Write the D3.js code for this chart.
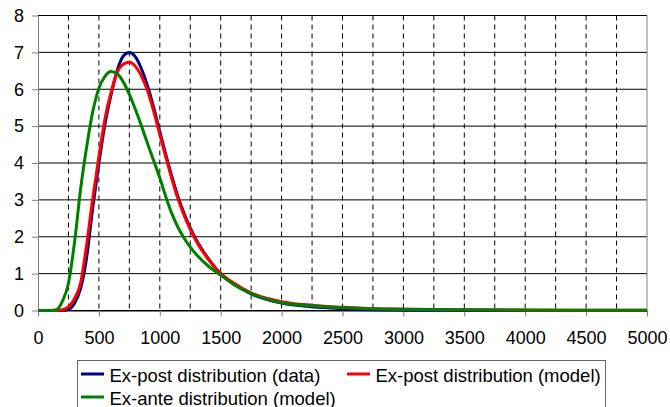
<!DOCTYPE html>
<html>
<head>
<meta charset="utf-8">
<script src="https://cdn.jsdelivr.net/npm/d3@7"></script>
<style>
  body { margin: 0; background: #fff; }
  svg { display: block; font-family: "Liberation Sans", Arial, sans-serif; }
</style>
</head>
<body>
<div class="chart"></div>
<script>
// valores
const xs = [0, 100, 150, 200, 250, 300, 350, 400, 450, 500, 550, 600, 650, 700, 750, 800, 850, 900, 950, 1000,
  1050, 1100, 1150, 1200, 1250, 1300, 1400, 1500, 1600, 1750, 2000, 2250, 2500, 2750, 3000, 3500, 4000, 4500, 5000];

const expostData = [0, 0, 0, 0, 0.03, 0.2, 0.6, 1.45, 2.8, 4.0, 5.05, 5.85, 6.5, 6.9, 7.0, 6.88, 6.55, 6.08, 5.5, 4.85,
  4.22, 3.62, 3.08, 2.63, 2.24, 1.91, 1.4, 1.0, 0.74, 0.45, 0.2, 0.1, 0.05, 0.02, 0.01, 0.003, 0, 0, 0];

const expostModel = [0, 0, 0, 0.02, 0.1, 0.32, 0.75, 1.8, 3.05, 4.17, 5.2, 5.92, 6.45, 6.68, 6.73, 6.62, 6.35, 5.95, 5.4, 4.77,
  4.15, 3.56, 3.02, 2.58, 2.2, 1.88, 1.38, 1.0, 0.76, 0.48, 0.24, 0.14, 0.085, 0.05, 0.035, 0.018, 0.01, 0.006, 0.004];

const exanteModel = [0, 0, 0.02, 0.25, 0.74, 1.85, 3.3, 4.45, 5.4, 6.03, 6.35, 6.48, 6.42, 6.2, 5.86, 5.45, 5.0, 4.52, 4.06, 3.6,
  3.08, 2.62, 2.25, 1.96, 1.72, 1.52, 1.2, 0.96, 0.72, 0.46, 0.21, 0.13, 0.075, 0.045, 0.033, 0.02, 0.012, 0.008, 0.005];

const seriesNames = ['Ex-post distribution (data)', 'Ex-post distribution (model)', 'Ex-ante distribution (model)'];
const seriesColors = ['#000080', '#ff0000', '#008000'];
const seriesValues = [expostData, expostModel, exanteModel];

const xTicks = [0, 500, 1000, 1500, 2000, 2500, 3000, 3500, 4000, 4500, 5000];
const xGrid = d3.range(250, 5000, 250);
const yTicks = [0, 1, 2, 3, 4, 5, 6, 7, 8];

// tamaño
const W = 670, H = 407;
const margin = { top: 15.5, right: 23, bottom: 96.5, left: 38 };
const width = W - margin.left - margin.right;
const height = H - margin.top - margin.bottom;

const x = d3.scaleLinear().domain([0, 5000]).range([0, width]);
const y = d3.scaleLinear().domain([0, 8]).range([height, 0]);

const svg = d3.select('.chart')
  .append('svg')
  .attr('width', W)
  .attr('height', H);

const g = svg.append('g')
  .attr('transform', `translate(${margin.left}, ${margin.top})`);

// líneas verticales discontinuas
g.append('g')
  .selectAll('line')
  .data(xGrid)
  .join('line')
  .attr('x1', d => x(d))
  .attr('x2', d => x(d))
  .attr('y1', 0)
  .attr('y2', height)
  .attr('stroke', '#000')
  .attr('stroke-width', 1)
  .attr('stroke-dasharray', '5,4');

// líneas horizontales
g.append('g')
  .selectAll('line')
  .data(yTicks)
  .join('line')
  .attr('x1', 0)
  .attr('x2', width)
  .attr('y1', d => y(d))
  .attr('y2', d => y(d))
  .attr('stroke', '#000')
  .attr('stroke-width', 1);

// borde derecho
g.append('line')
  .attr('x1', width).attr('x2', width)
  .attr('y1', 0).attr('y2', height)
  .attr('stroke', '#808080');

// eje y
const yAxis = d3.axisLeft(y)
  .tickValues(yTicks)
  .tickSize(6)
  .tickPadding(8)
  .tickSizeOuter(0);

const gy = g.append('g').call(yAxis);
gy.select('.domain').attr('stroke', '#808080');
gy.selectAll('.tick line').attr('stroke', '#808080');
gy.selectAll('.tick text')
  .attr('font-size', 18)
  .attr('font-family', '"Liberation Sans", Arial, sans-serif')
  .attr('fill', '#000');

// eje x
const xAxis = d3.axisBottom(x)
  .tickValues(xTicks)
  .tickFormat(d3.format('d'))
  .tickSize(6)
  .tickPadding(15)
  .tickSizeOuter(0);

const gx = g.append('g')
  .attr('transform', `translate(0, ${height})`)
  .call(xAxis);
gx.select('.domain').attr('stroke', '#000');
gx.selectAll('.tick line').attr('stroke', '#808080');
gx.selectAll('.tick text')
  .attr('font-size', 18)
  .attr('font-family', '"Liberation Sans", Arial, sans-serif')
  .attr('fill', '#000');

// curvas
const line = d3.line()
  .x((d, i) => x(xs[i]))
  .y(d => y(d))
  .curve(d3.curveMonotoneX);

g.append('g')
  .selectAll('path')
  .data(seriesValues)
  .join('path')
  .attr('d', d => line(d))
  .attr('fill', 'none')
  .attr('stroke', (d, i) => seriesColors[i])
  .attr('stroke-width', 3)
  .attr('stroke-linejoin', 'round');

// leyenda
const legend = svg.append('g');
legend.append('rect')
  .attr('x', 77.5)
  .attr('y', 360.5)
  .attr('width', 528)
  .attr('height', 60)
  .attr('fill', '#fff')
  .attr('stroke', '#666');

const legendPos = [[81, 374], [347, 374], [81, 397]];

const items = legend.selectAll('.item')
  .data(seriesNames)
  .join('g')
  .attr('class', 'item')
  .attr('transform', (d, i) => `translate(${legendPos[i][0]}, ${legendPos[i][1]})`);

items.append('line')
  .attr('x1', 0).attr('x2', 23)
  .attr('y1', 0).attr('y2', 0)
  .attr('stroke', (d, i) => seriesColors[i])
  .attr('stroke-width', 3);

items.append('text')
  .attr('x', 28.5)
  .attr('y', 7.5)
  .attr('font-size', 18.5)
  .attr('fill', '#000')
  .text(d => d);
</script>
</body>
</html>
